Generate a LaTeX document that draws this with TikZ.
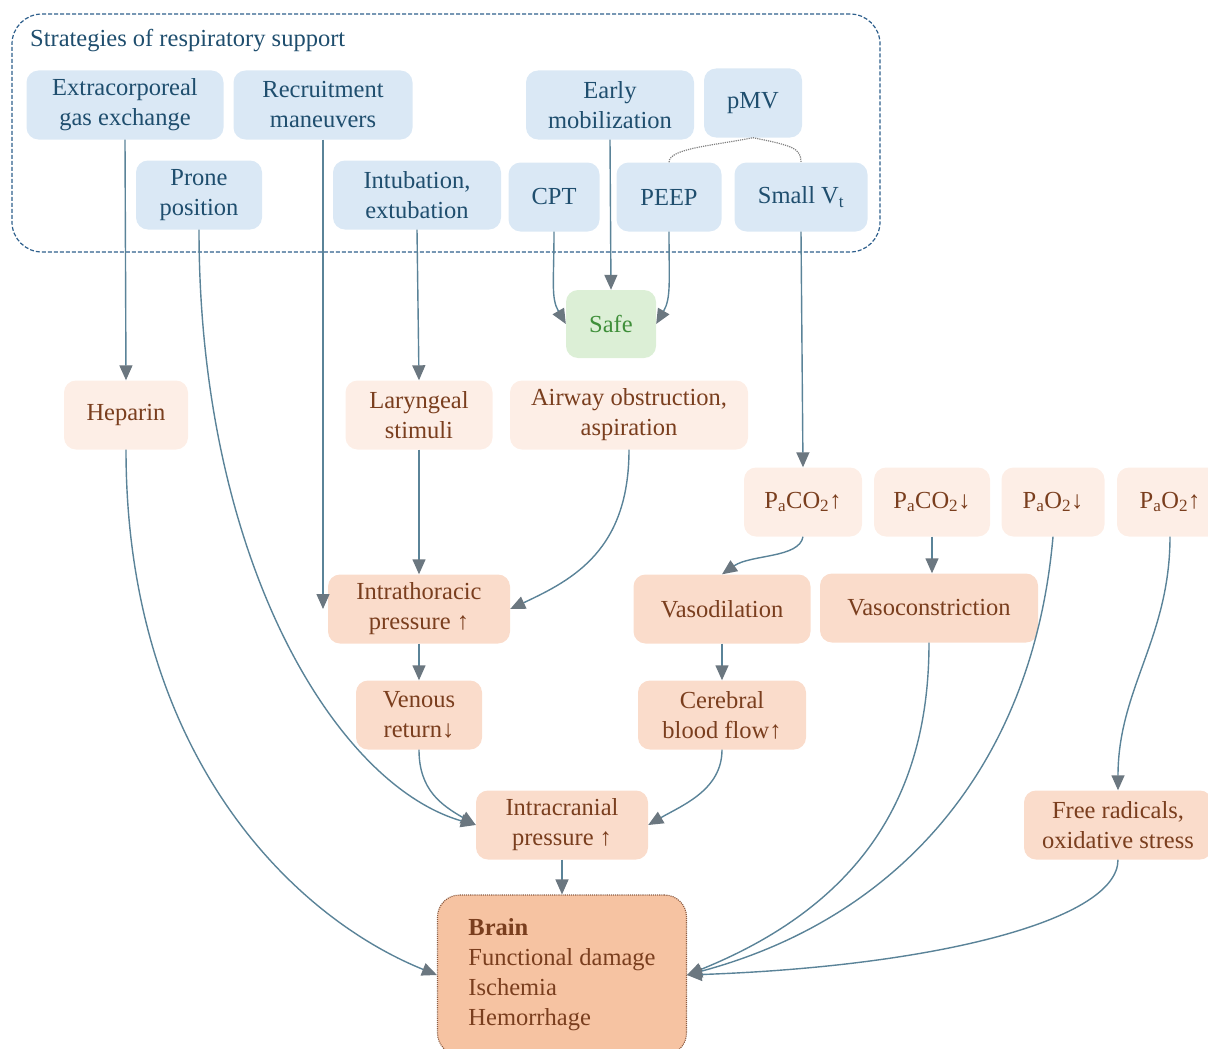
\documentclass[tikz,border=0pt]{standalone}
\usepackage{fontspec}
\setmainfont{Liberation Serif}
\usepackage{tikz}
\usetikzlibrary{arrows.meta}
\definecolor{stratfill}{HTML}{DAE8F5}
\definecolor{stratink}{HTML}{1F4E6E}
\definecolor{frameblue}{HTML}{2E5F8C}
\definecolor{palefill}{HTML}{FDEEE6}
\definecolor{midfill}{HTML}{FADCCB}
\definecolor{brainfill}{HTML}{F6C3A2}
\definecolor{brainedge}{HTML}{8A5A40}
\definecolor{effink}{HTML}{7A3E1E}
\definecolor{safefill}{HTML}{DCEFD6}
\definecolor{safeink}{HTML}{3F8F3A}
\definecolor{linkblue}{HTML}{5A8398}
\definecolor{tipgray}{HTML}{6B7780}

\begin{document}
\begin{tikzpicture}[x=1pt,y=-1pt,->,>={Triangle[length=15pt,width=13pt,color=tipgray]},font=\fontsize{24.5}{30}\selectfont]
\tikzstyle{every edge}=[draw=linkblue,line width=1.4pt]
\tikzstyle{stratbox}=[fill=stratfill,text=stratink,rounded corners=12,minimum height=69,align=center,inner sep=2]
\tikzstyle{palebox}=[fill=palefill,text=effink,rounded corners=12,minimum height=69,align=center,inner sep=2]
\tikzstyle{midbox}=[fill=midfill,text=effink,rounded corners=12,minimum height=69,align=center,inner sep=2]
\useasboundingbox (0,0) rectangle (1208,1049);
\node[draw=frameblue,dash pattern=on 4pt off 2pt,line width=1.2pt,rounded corners=30,minimum width=868,minimum height=238] (support) at (446,133) {};
\node[anchor=west,text=stratink,inner sep=0] (title) at (30,41) {Strategies of respiratory support};
% strategies
\node[stratbox,minimum width=197] (extra) at (125,105) {Extracorporeal\\gas exchange};
\node[stratbox,minimum width=179] (recruit) at (323,105) {Recruitment\\maneuvers};
\node[stratbox,minimum width=168] (early) at (610,105) {Early\\mobilization};
\node[stratbox,minimum width=98] (pmv) at (753,103) {pMV};
\node[stratbox,minimum width=126] (prone) at (199,195) {Prone\\position};
\node[stratbox,minimum width=168] (intub) at (417,195) {Intubation,\\extubation};
\node[stratbox,minimum width=91] (cpt) at (554,197) {CPT};
\node[stratbox,minimum width=105] (peep) at (669,197) {PEEP};
\node[stratbox,minimum width=133] (smallvt) at (801,197) {Small V\textsubscript{t}};
\node[fill=safefill,text=safeink,rounded corners=12,minimum width=90,minimum height=68] (safe) at (611,324) {Safe};
% effects
\node[palebox,minimum width=124] (heparin) at (126,415) {Heparin};
\node[palebox,minimum width=147] (laryng) at (419,415) {Laryngeal\\stimuli};
\node[palebox,minimum width=238] (airway) at (629,415) {Airway obstruction,\\aspiration};
\node[palebox,minimum width=118] (paco2up) at (803,502) {P\textsubscript{a}CO\textsubscript{2}↑};
\node[palebox,minimum width=116] (paco2dn) at (932,502) {P\textsubscript{a}CO\textsubscript{2}↓};
\node[palebox,minimum width=103] (pao2dn) at (1053,502) {P\textsubscript{a}O\textsubscript{2}↓};
\node[palebox,minimum width=106] (pao2up) at (1170,502) {P\textsubscript{a}O\textsubscript{2}↑};
\node[midbox,minimum width=182] (intrath) at (419,609) {Intrathoracic\\pressure ↑};
\node[midbox,minimum width=177] (vasodil) at (722,609) {Vasodilation};
\node[midbox,minimum width=218] (vasocon) at (929,608) {Vasoconstriction};
\node[midbox,minimum width=126] (venous) at (419,715) {Venous\\return↓};
\node[midbox,minimum width=168] (cerebral) at (722,715) {Cerebral\\blood flow↑};
\node[midbox,minimum width=172] (icp) at (562,825) {Intracranial\\pressure ↑};
\node[midbox,minimum width=188] (freerad) at (1118,825) {Free radicals,\\oxidative stress};
\node[fill=brainfill,text=effink,draw=brainedge,densely dotted,line width=1.1pt,rounded corners=22,minimum width=249,minimum height=160,align=left] (brain) at (562,975) {\textbf{Brain}\\Functional damage\\Ischemia\\Hemorrhage};
% pMV brace
\draw[-,densely dotted,gray,line width=1.2pt] (peep.north) .. controls +(0,-14) and +(-40,8) .. (pmv.south) .. controls +(40,8) and +(0,-14) .. (smallvt.north);
% links
\path (extra.south) edge (heparin.north)
      (recruit.south) edge (recruit.south |- intrath.west)
      (intub.south) edge (laryng.north)
      (early.south) edge (safe.north)
      (smallvt.south) edge (paco2up.north)
      (cpt.south) edge[out=-90,in=120,out distance=50pt,in distance=30pt] (safe.west)
      (peep.south) edge[out=-90,in=60,out distance=50pt,in distance=30pt] (safe.east)
      (prone.south) edge[out=-90,in=164,out distance=330pt,in distance=146pt] (icp.west)
      (heparin.south) edge[out=-90,in=158,out distance=300pt,in distance=160pt] (brain.west)
      (laryng.south) edge (intrath.north)
      (airway.south) edge[out=-90,in=25,out distance=100pt,in distance=70pt] (intrath.east)
      (paco2up.south) edge[out=-100,in=35,out distance=22pt,in distance=35pt] (vasodil.north)
      (paco2dn.south) edge (paco2dn.south |- vasocon.north)
      (intrath.south) edge (venous.north)
      (vasodil.south) edge (cerebral.north)
      (venous.south) edge[out=-90,in=150,out distance=40pt,in distance=40pt] (icp.west)
      (cerebral.south) edge[out=-90,in=30,out distance=40pt,in distance=40pt] (icp.east)
      (icp.south) edge (brain.north)
      (pao2up.south) edge[out=-90,in=90] (freerad.north)
      (pao2dn.south) edge[out=-95,in=15,out distance=230pt,in distance=220pt] (brain.east)
      (vasocon.south) edge[out=-90,in=22,out distance=140pt,in distance=200pt] (brain.east)
      (freerad.south) edge[out=-90,in=2,out distance=60pt,in distance=250pt] (brain.east);
\end{tikzpicture}
\end{document}
